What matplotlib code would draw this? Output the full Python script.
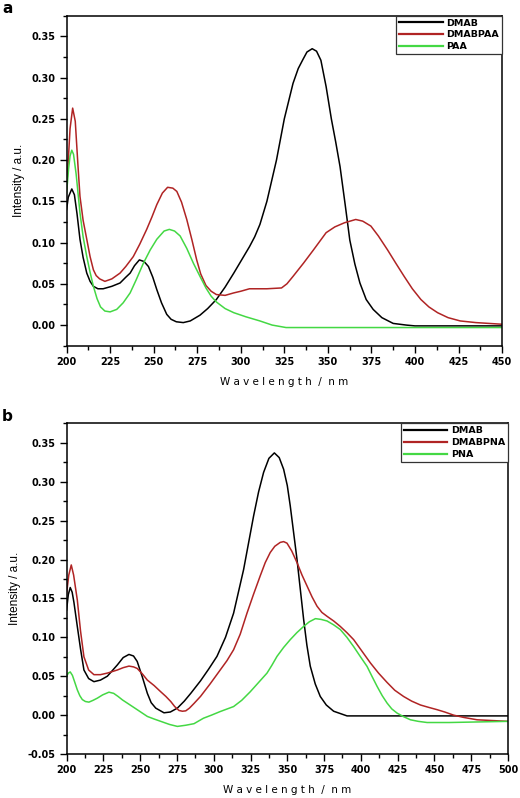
import matplotlib
matplotlib.use("Agg")
import matplotlib.pyplot as plt
from matplotlib.ticker import MultipleLocator, FormatStrFormatter

# panel a : DMAB / DMABPAA / PAA
a_dmab_x = [200, 201, 203, 204.5, 206, 207.7, 209.5, 211.6, 213.5, 215.4, 218, 221, 226, 230.7, 234,
            236.5, 239, 241.8, 244.5, 247, 249.5, 251.8, 254.5, 257.5, 260, 263, 267, 271, 276.6, 281,
            286, 291, 296, 300.5, 305, 308, 311, 315, 320.5, 325, 330, 333, 335.7, 338, 341, 343.5, 346,
            349, 352, 354.5, 357, 360, 362.6, 365.5, 368.4, 372, 376, 381, 387.5, 395, 400, 450]
a_dmab_y = [0.140, 0.155, 0.165, 0.158, 0.135, 0.104, 0.082, 0.063, 0.053, 0.047, 0.044, 0.044, 0.047, 0.051, 0.058,
            0.063, 0.072, 0.079, 0.077, 0.071, 0.058, 0.043, 0.027, 0.013, 0.007, 0.004, 0.003, 0.005, 0.012, 0.020,
            0.031, 0.046, 0.063, 0.079, 0.095, 0.107, 0.122, 0.150, 0.200, 0.250, 0.293, 0.311, 0.322, 0.331, 0.335, 0.332, 0.321,
            0.289, 0.250, 0.222, 0.192, 0.145, 0.103, 0.074, 0.051, 0.031, 0.019, 0.009, 0.002, 0.000, -0.001, -0.001]

a_mix_x = [200, 201, 202, 203.5, 205, 206.5, 207.7, 209.5, 211.6, 213.5, 215.4, 217, 219, 222, 226,
           230.7, 234, 238.3, 242, 246, 249, 251.8, 255, 258, 261, 263.3, 266, 269, 272, 274.7, 277,
           280, 283, 286, 291, 296, 300, 305, 315, 323.4, 326.5, 330, 336, 341.7, 349, 354, 359.5,
           366, 370, 374.7, 379, 384.3, 389, 393.8, 398.5, 403.4, 408, 413, 419, 426, 435, 450]
a_mix_y = [0.165, 0.200, 0.238, 0.263, 0.247, 0.195, 0.156, 0.127, 0.104, 0.083, 0.067, 0.060, 0.056, 0.053, 0.056,
           0.063, 0.071, 0.083, 0.098, 0.116, 0.131, 0.146, 0.160, 0.167, 0.166, 0.162, 0.149, 0.128, 0.103, 0.079, 0.062,
           0.048, 0.041, 0.037, 0.036, 0.039, 0.041, 0.044, 0.044, 0.045, 0.050, 0.059, 0.075, 0.091, 0.112, 0.119, 0.124,
           0.128, 0.126, 0.120, 0.108, 0.091, 0.075, 0.059, 0.044, 0.031, 0.022, 0.015, 0.009, 0.005, 0.003, 0.001]

a_paa_x = [200, 201.2, 202, 203, 204, 205.5, 207.7, 209.5, 211.6, 213.5, 215.4, 217.5, 219.5, 222, 225,
           228.8, 232.5, 236.5, 240, 244.1, 248, 251.8, 256, 259, 262, 265.2, 269, 272.8, 276.6, 280,
           283, 286, 291, 296, 303, 311, 318, 326, 450]
a_paa_y = [0.160, 0.190, 0.205, 0.212, 0.207, 0.183, 0.136, 0.107, 0.083, 0.064, 0.047, 0.032, 0.022, 0.017, 0.016,
           0.019, 0.027, 0.039, 0.055, 0.075, 0.091, 0.104, 0.114, 0.116, 0.114, 0.108, 0.093, 0.075, 0.059, 0.045,
           0.035, 0.028, 0.020, 0.015, 0.010, 0.005, 0.000, -0.003, -0.003]

# panel b : DMAB / DMABPNA / PNA
b_dmab_x = [200, 201.2, 202.5, 203.8, 205, 207.3, 209.5, 211.8, 215, 218.6, 223, 227.7, 231, 234.5, 238.5,
            242.4, 245.5, 248, 251.5, 254.9, 257.5, 260.6, 266.2, 270.5, 275.3, 280, 284.4, 291, 296.5,
            302.2, 308, 313.5, 320.3, 327.1, 330.5, 333.9, 337.5, 341.2, 344.5, 347.5, 350, 352, 356.6,
            361.1, 363.3, 365.6, 369, 372.4, 376.5, 381.5, 390.6, 500]
b_dmab_y = [0.135, 0.155, 0.164, 0.158, 0.145, 0.114, 0.085, 0.058, 0.047, 0.043, 0.045, 0.050, 0.057, 0.0645, 0.074,
            0.078, 0.076, 0.069, 0.049, 0.028, 0.016, 0.009, 0.003, 0.004, 0.009, 0.018, 0.028, 0.044, 0.059,
            0.0755, 0.100, 0.131, 0.187, 0.256, 0.287, 0.312, 0.330, 0.337, 0.331, 0.316, 0.295, 0.269, 0.200,
            0.123, 0.090, 0.063, 0.040, 0.024, 0.013, 0.005, -0.001, -0.001]

b_mix_x = [200, 201.5, 203.2, 204.8, 207.3, 209.5, 211.8, 215, 218.6, 223, 227.7, 234.5, 238.5, 242.4,
           245.5, 248, 251.5, 254.9, 259.5, 264, 267.5, 270.8, 273.5, 276.4, 278.7, 281, 283.5, 286.6,
           291, 297.5, 304.4, 309, 313.5, 318, 322.6, 327, 331.6, 335, 338.4, 341.5, 345.2, 347.5,
           349.8, 353, 356.6, 360, 363.4, 366.8, 370.2, 373.5, 377, 381.5, 386, 390.5, 395.1, 400.8,
           406.5, 412, 417.8, 423, 429, 434.5, 440.5, 446, 451.8, 457, 463, 470, 479, 500]
b_mix_y = [0.156, 0.180, 0.193, 0.180, 0.148, 0.108, 0.075, 0.058, 0.052, 0.052, 0.054, 0.058, 0.061, 0.063,
           0.062, 0.060, 0.053, 0.045, 0.038, 0.030, 0.024, 0.0175, 0.011, 0.006, 0.005, 0.0055, 0.009, 0.015,
           0.024, 0.040, 0.058, 0.070, 0.084, 0.104, 0.131, 0.155, 0.179, 0.196, 0.209, 0.217, 0.222, 0.223,
           0.221, 0.211, 0.196, 0.180, 0.166, 0.152, 0.140, 0.132, 0.127, 0.121, 0.114, 0.106, 0.097, 0.082,
           0.067, 0.054, 0.042, 0.032, 0.024, 0.018, 0.013, 0.010, 0.007, 0.004, 0.000, -0.003, -0.006, -0.008]

b_pna_x = [200, 201.2, 202.5, 204, 205.8, 207.3, 209, 210.7, 212.8, 215.2, 218, 220.9, 224.5, 228.8, 232,
           235, 238, 241.3, 248, 254.9, 259.5, 264, 270, 275.3, 281, 286.6, 293, 298.5, 304.4, 313.5,
           319, 324.8, 330.5, 336.2, 339.5, 343, 347.5, 352, 356.5, 361.1, 365, 369.1, 373, 377, 381.5,
           386, 390.5, 395.1, 399.7, 404.2, 407.5, 411, 414.5, 417.8, 421, 424.6, 429, 433.7, 439, 445,
           460, 500]
b_pna_y = [0.050, 0.054, 0.0555, 0.051, 0.041, 0.0325, 0.025, 0.020, 0.0175, 0.0167, 0.019, 0.0218, 0.026, 0.0295, 0.028,
           0.024, 0.0195, 0.0154, 0.007, -0.0017, -0.005, -0.008, -0.012, -0.0145, -0.013, -0.011, -0.004, 0.000, 0.0046, 0.011,
           0.019, 0.030, 0.042, 0.054, 0.064, 0.0755, 0.087, 0.097, 0.106, 0.114, 0.120, 0.124, 0.123, 0.121, 0.116,
           0.110, 0.100, 0.088, 0.075, 0.0626, 0.050, 0.037, 0.025, 0.0155, 0.008, 0.0026, -0.002, -0.006, -0.008, -0.0095,
           -0.0095, -0.008]

BLACK = "#000000"
RED = "#b02424"
GREEN = "#44d844"


def style_axes(ax, xmax, ymin):
    ax.set_xlim(200, xmax)
    ax.set_ylim(ymin, 0.375)
    ax.xaxis.set_major_locator(MultipleLocator(25))
    ax.xaxis.set_minor_locator(MultipleLocator(12.5))
    ax.yaxis.set_major_locator(MultipleLocator(0.05))
    ax.yaxis.set_minor_locator(MultipleLocator(0.025))
    ax.yaxis.set_major_formatter(FormatStrFormatter("%.2f"))
    ax.tick_params(which="major", direction="out", length=5, width=1, pad=3)
    ax.tick_params(which="minor", direction="out", length=3, width=1)
    ax.tick_params(top=False, right=False, which="both")
    for lab in ax.get_xticklabels() + ax.get_yticklabels():
        lab.set_fontfamily("DejaVu Sans")
        lab.set_fontweight("bold")
        lab.set_fontsize(7)
    for sp in ax.spines.values():
        sp.set_linewidth(1.1)
    ax.set_xlabel("W a v e l e n g t h  /  n m", fontsize=7.5, family="DejaVu Sans", labelpad=7)
    ax.set_ylabel("Intensity / a.u.", fontsize=8.5, family="Liberation Sans", labelpad=5)
    leg = ax.legend(loc="upper right", bbox_to_anchor=(1, 1), borderaxespad=0, fancybox=False,
                    edgecolor="#333333", framealpha=1, handlelength=4.6, handletextpad=0.4,
                    borderpad=0.3, labelspacing=0.3,
                    prop={"family": "DejaVu Sans", "weight": "bold", "size": 6.8})
    leg.get_frame().set_linewidth(0.9)
    for line in leg.get_lines():
        line.set_linewidth(1.6)


fig = plt.figure(figsize=(5.2, 7.98), dpi=100)

ax1 = fig.add_axes([0.128, 0.5668, 0.8375, 0.4135])
ax1.plot(a_dmab_x, a_dmab_y, color=BLACK, lw=1.1, label="DMAB")
ax1.plot(a_mix_x, a_mix_y, color=RED, lw=1.1, label="DMABPAA")
ax1.plot(a_paa_x, a_paa_y, color=GREEN, lw=1.1, label="PAA")
style_axes(ax1, 450, -0.025)

ax2 = fig.add_axes([0.128, 0.0551, 0.849, 0.4144])
ax2.plot(b_dmab_x, b_dmab_y, color=BLACK, lw=1.1, label="DMAB")
ax2.plot(b_mix_x, b_mix_y, color=RED, lw=1.1, label="DMABPNA")
ax2.plot(b_pna_x, b_pna_y, color=GREEN, lw=1.1, label="PNA")
style_axes(ax2, 500, -0.05)

fig.text(0.004, 1 - 13 / 798, "a", fontsize=11, weight="bold", family="DejaVu Sans")
fig.text(0.004, 1 - 421 / 798, "b", fontsize=11, weight="bold", family="DejaVu Sans")

fig.savefig("out.png", dpi=100)
